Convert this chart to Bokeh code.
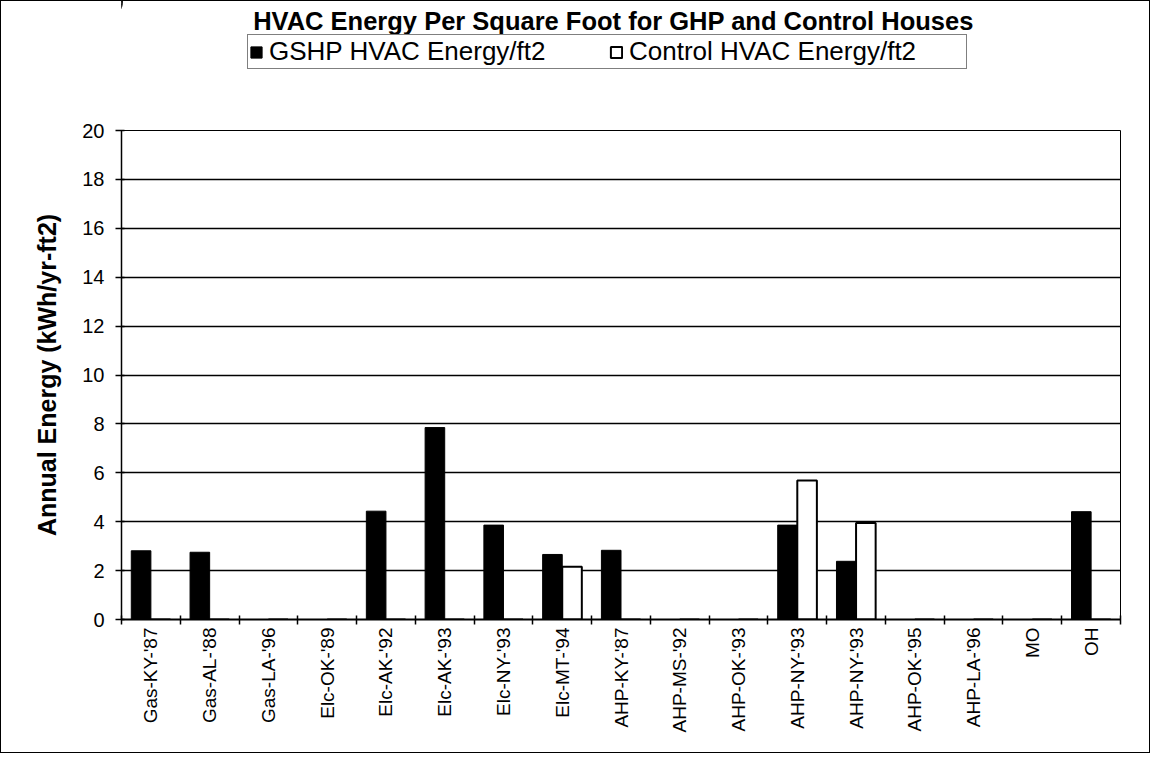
import math
from bokeh.plotting import figure
from bokeh.layouts import column
from bokeh.models import ColumnDataSource, FixedTicker, Legend, LegendItem, Range1d, Label
from bokeh.transform import dodge
from bokeh.embed import file_html
from bokeh.resources import INLINE

# ---------------- data ----------------
title_text = "HVAC Energy Per Square Foot for GHP and Control Houses"
y_label = "Annual Energy (kWh/yr-ft2)"
series_names = ["GSHP HVAC Energy/ft2", "Control HVAC Energy/ft2"]
categories = ["Gas-KY-'87", "Gas-AL-'88", "Gas-LA-'96", "Elc-OK-'89", "Elc-AK-'92",
              "Elc-AK-'93", "Elc-NY-'93", "Elc-MT-'94", "AHP-KY-'87", "AHP-MS-'92",
              "AHP-OK-'93", "AHP-NY-'93", "AHP-NY-'93", "AHP-OK-'95", "AHP-LA-'96",
              "MO", "OH"]
gshp_energy = [2.81, 2.75, 0, 0, 4.43, 7.85, 3.86, 2.66, 2.83, 0, 0, 3.86, 2.38, 0, 0, 0, 4.41]
control_energy = [0, 0, 0, 0, 0, 0, 0, 2.16, 0, 0, 0, 5.68, 3.95, 0, 0, 0, 0]
y_ticks = [0, 2, 4, 6, 8, 10, 12, 14, 16, 18, 20]

FONT = "Liberation Sans"
TOP_H = 118
LEFT, FRAME_W, RIGHT = 121, 999, 30
n = len(categories)
idx = list(range(n))
source = ColumnDataSource(dict(x=idx, gshp=gshp_energy, control=control_energy))

GSHP_STYLE = dict(fill_color="black", line_color="black", line_width=1)
CTRL_STYLE = dict(fill_color="white", line_color="black", line_width=2)

# ---------------- header figure: title + legend ----------------
# (its frame is aligned with the chart frame by the column layout)
head = figure(frame_width=FRAME_W, frame_height=TOP_H,
              x_range=Range1d(LEFT, LEFT + FRAME_W), y_range=Range1d(TOP_H, 0),
              output_backend="svg", toolbar_location=None,
              min_border_left=LEFT, min_border_right=RIGHT,
              min_border_top=0, min_border_bottom=0,
              styles={"box-shadow": "inset 1px 1px 0 0 #000, inset -1px 0 0 0 #000",
                      "background": "white"})
head.axis.visible = False
head.grid.visible = False
head.outline_line_color = None
head.title.visible = False
head.background_fill_color = None
head.border_fill_color = None

# legend proxies (same data, outside this header's visible range)
hr1 = head.vbar(x="x", top="gshp", width=1/3, source=source, **GSHP_STYLE)
hr2 = head.vbar(x="x", top="control", width=1/3, source=source, **CTRL_STYLE)

head.add_layout(Label(x=613, y=20, text=title_text, text_align="center",
                      text_baseline="middle", text_font=FONT, text_font_size="25.5px",
                      text_font_style="bold", text_color="black"))

legend = Legend(items=[LegendItem(label=series_names[0], renderers=[hr1], index=0),
                       LegendItem(label=series_names[1], renderers=[hr2], index=0)],
                orientation="horizontal", location=(247 - LEFT, 49),
                label_text_font=FONT, label_text_font_size="26px", label_text_color="black",
                glyph_width=14, glyph_height=14, label_standoff=6, label_width=336,
                spacing=4, padding=1, margin=0,
                border_line_color="black", border_line_width=1.5,
                background_fill_color="white", background_fill_alpha=1)
head.add_layout(legend)

# ---------------- main chart ----------------
p = figure(frame_width=FRAME_W, frame_height=489,
           x_range=Range1d(-0.5, n - 0.5), y_range=Range1d(0, 20),
           output_backend="svg", toolbar_location=None,
           min_border_left=LEFT, min_border_top=12, min_border_right=RIGHT, min_border_bottom=134,
           styles={"box-shadow": "inset 1px -1px 0 0 #000, inset -1px 0 0 0 #000",
                   "background": "white"})
p.title.visible = False
p.outline_line_color = "black"
p.outline_line_width = 1
p.background_fill_color = "white"
p.border_fill_color = None

r1 = p.vbar(x=dodge("x", -1/6, range=p.x_range), top="gshp", width=1/3, source=source,
            **GSHP_STYLE)
r2 = p.vbar(x=dodge("x", 1/6, range=p.x_range), top="control", width=1/3, source=source,
            **CTRL_STYLE)

# y axis
p.yaxis.ticker = FixedTicker(ticks=y_ticks)
p.yaxis.major_label_text_font = FONT
p.yaxis.major_label_text_font_size = "20px"
p.yaxis.major_label_text_color = "black"
p.yaxis.major_tick_in = 3
p.yaxis.major_tick_out = 6
p.yaxis.major_tick_line_width = 1.5
p.yaxis.major_label_standoff = 11
p.yaxis.minor_tick_line_color = None
p.yaxis.axis_line_width = 1.5
p.yaxis.axis_label = y_label
p.yaxis.axis_label_text_font = FONT
p.yaxis.axis_label_text_font_size = "25px"
p.yaxis.axis_label_text_font_style = "bold"
p.yaxis.axis_label_text_color = "black"
p.yaxis.axis_label_standoff = 18

p.ygrid.ticker = FixedTicker(ticks=y_ticks)
p.ygrid.grid_line_color = "black"
p.ygrid.grid_line_width = 1.5
p.xgrid.visible = False

# x axis
p.xaxis.ticker = FixedTicker(ticks=idx, minor_ticks=[i - 0.5 for i in range(n + 1)])
p.xaxis.major_label_overrides = {i: c for i, c in enumerate(categories)}
p.xaxis.major_label_orientation = math.pi / 2
p.xaxis.major_label_text_font = FONT
p.xaxis.major_label_text_font_size = "19px"
p.xaxis.major_label_text_color = "black"
p.xaxis.major_tick_line_color = None
p.xaxis.major_tick_in = 0
p.xaxis.major_tick_out = 0
p.xaxis.minor_tick_in = 4
p.xaxis.minor_tick_out = 5
p.xaxis.minor_tick_line_color = "black"
p.xaxis.minor_tick_line_width = 1.5
p.xaxis.major_label_standoff = 3
p.xaxis.axis_line_width = 2

layout = column(head, p, spacing=0)

open("out.html", "w").write(file_html(layout, INLINE))
